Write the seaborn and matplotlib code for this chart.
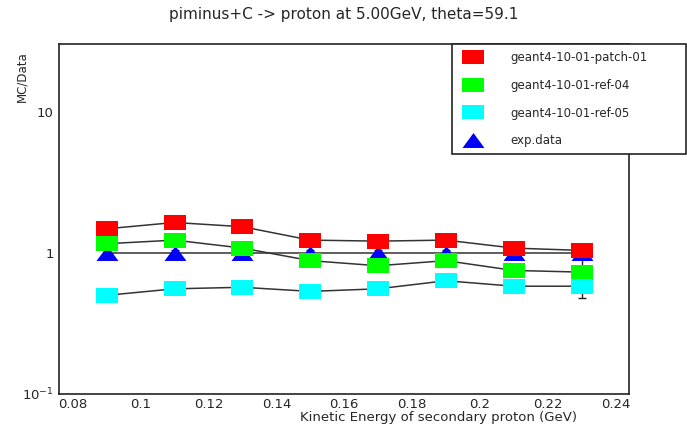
import numpy as np
import pandas as pd
import matplotlib as mpl
mpl.use("Agg")
import matplotlib.pyplot as plt
from matplotlib.lines import Line2D
from matplotlib.ticker import FixedLocator, FixedFormatter, MultipleLocator
import seaborn as sns

sns.set_style("white")
plt.rcParams["font.family"] = ["DejaVu Sans"]

# Data
energy = [0.09, 0.11, 0.13, 0.15, 0.17, 0.19, 0.21, 0.23]
patch01 = [1.48, 1.64, 1.53, 1.23, 1.21, 1.23, 1.08, 1.04]
ref04 = [1.16, 1.23, 1.08, 0.88, 0.81, 0.88, 0.75, 0.73]
ref05 = [0.50, 0.556, 0.57, 0.533, 0.556, 0.634, 0.58, 0.58]
exp_ratio = [1.0, 1.0, 1.0, 1.0, 1.0, 1.0, 1.0, 1.0]
exp_err_lo = [0.04, 0.04, 0.04, 0.04, 0.04, 0.04, 0.04, 0.52]
exp_err_hi = [0.04, 0.04, 0.04, 0.04, 0.04, 0.04, 0.04, 0.12]
models = ["geant4-10-01-patch-01", "geant4-10-01-ref-04", "geant4-10-01-ref-05"]
colors = {"geant4-10-01-patch-01": "#ff0000",
          "geant4-10-01-ref-04": "#00ff00",
          "geant4-10-01-ref-05": "#00ffff"}

df = pd.DataFrame({
    "energy": energy * 3,
    "ratio": patch01 + ref04 + ref05,
    "model": sum([[m] * len(energy) for m in models], []),
})
df_exp = pd.DataFrame({"energy": energy, "ratio": exp_ratio})

# ROOT-like stretched markers
rect = [(-1, -0.68), (1, -0.68), (1, 0.68), (-1, 0.68), (-1, -0.68)]
tri = [(-1, -0.68), (1, -0.68), (0, 0.68), (-1, -0.68)]

fig = plt.figure(figsize=(6.87, 4.29), dpi=100)
ax = fig.add_axes([0.0863, 0.0816, 0.8293, 0.8152])

# exp data
ax.errorbar(energy, exp_ratio, yerr=[exp_err_lo, exp_err_hi], fmt="none",
            ecolor="#222222", elinewidth=1.0, capsize=3, capthick=1.0, zorder=2)
sns.lineplot(data=df_exp, x="energy", y="ratio", color="#333333", lw=1.1,
             ax=ax, zorder=2)
sns.scatterplot(data=df_exp, x="energy", y="ratio", marker=tri, s=250,
                color="#0000ff", linewidth=0, ax=ax, zorder=3)

# MC lines + markers
sns.lineplot(data=df, x="energy", y="ratio", units="model", estimator=None,
             color="#333333", lw=1.1, ax=ax, zorder=2)
sns.scatterplot(data=df, x="energy", y="ratio", hue="model", style="model",
                markers={m: rect for m in models}, palette=colors, s=250,
                linewidth=0, legend=False, ax=ax, zorder=4)

ax.set_yscale("log")
ax.set_xlim(0.076, 0.244)
ax.set_ylim(0.1, 30)
ax.set_xlabel("")
ax.set_ylabel("")

ax.yaxis.set_major_locator(FixedLocator([0.1, 1, 10]))
ax.yaxis.set_major_formatter(FixedFormatter(["$10^{-1}$", "1", "10"]))
ax.yaxis.set_minor_locator(FixedLocator(
    [0.2, 0.3, 0.4, 0.5, 0.6, 0.7, 0.8, 0.9, 2, 3, 4, 5, 6, 7, 8, 9, 20]))
ax.yaxis.set_minor_formatter(FixedFormatter([]))
xt = [0.08, 0.1, 0.12, 0.14, 0.16, 0.18, 0.2, 0.22, 0.24]
ax.xaxis.set_major_locator(FixedLocator(xt))
ax.xaxis.set_major_formatter(FixedFormatter([f"{v:g}" for v in xt]))
ax.xaxis.set_minor_locator(MultipleLocator(0.005))

ax.tick_params(which="both", direction="in", top=False, right=False,
               color="#222222", width=1.0, labelsize=9.5)
ax.tick_params(axis="y", which="major", length=13, pad=4)
ax.tick_params(axis="y", which="minor", length=6.5)
ax.tick_params(axis="x", which="major", length=8, pad=3)
ax.tick_params(axis="x", which="minor", length=4.3)
for s in ax.spines.values():
    s.set_linewidth(1.2)
    s.set_color("#222222")

fig.text(0.5, 0.967, "piminus+C -> proton at 5.00GeV, theta=59.1",
         ha="center", va="center", fontsize=11)
fig.text(0.032, 0.881, "MC/Data", rotation=90, ha="center", va="top",
         fontsize=8.5)
fig.text(0.84, 0.026, "Kinetic Energy of secondary proton (GeV)",
         ha="right", va="center", fontsize=9.5)

handles = [Line2D([], [], ls="none", marker=rect, ms=15.8, mew=0,
                  color=colors[m]) for m in models]
handles.append(Line2D([], [], ls="none", marker=tri, ms=15.8, mew=0,
                      color="#0000ff"))
leg = fig.legend(handles, models + ["exp.data"], loc="upper left",
                 bbox_to_anchor=(0.658, 0.7974, 0.3406, 0.1), mode="expand",
                 fontsize=8.5, frameon=True, fancybox=False, edgecolor="#222222",
                 framealpha=1, borderpad=0.6, labelspacing=1.25,
                 handletextpad=1.9, handlelength=2.4, borderaxespad=0)
leg.get_frame().set_linewidth(1.2)
leg.set_zorder(10)

plt.savefig("out.png", dpi=100)
